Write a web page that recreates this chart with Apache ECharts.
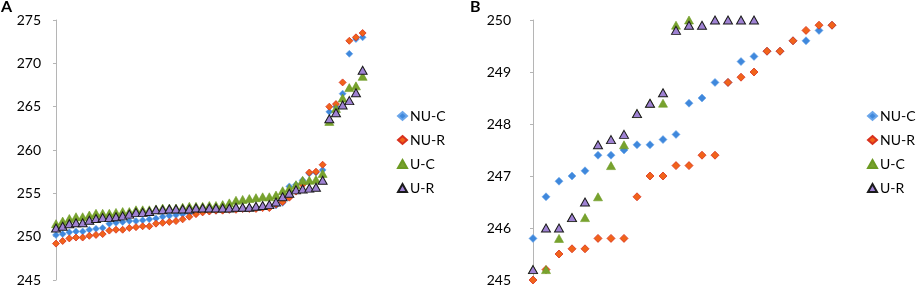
<!DOCTYPE html>
<html>
<head>
<meta charset="utf-8">
<script src="https://cdn.jsdelivr.net/npm/echarts@6/dist/echarts.min.js"></script>
<style>
  html, body { margin: 0; padding: 0; background: #fff; }
  #chart { width: 918px; height: 294px; }
</style>
</head>
<body>
<div id="chart"></div>
<script>
// panel A: 47 sorted values per group
var idxA = [];
for (var k = 0; k < 47; k++) idxA.push(k);
var nucA = [250.2, 250.3, 250.5, 250.6, 250.6, 250.8, 250.9, 251.0, 251.5, 251.6,
  251.7, 251.8, 251.8, 251.9, 252.0, 252.1, 252.3, 252.4, 252.5, 252.6,
  252.7, 252.8, 252.9, 253.0, 253.0, 253.1, 253.1, 253.2, 253.2, 253.3,
  253.3, 253.4, 253.5, 253.6, 253.9, 255.8, 256.0, 256.5, 257.3, 257.4,
  257.7, 264.4, 265.0, 266.5, 271.1, 272.8, 273.0];
var nurA = [249.2, 249.5, 249.8, 249.9, 249.9, 250.1, 250.2, 250.3, 250.7, 250.8,
  250.8, 251.0, 251.1, 251.2, 251.2, 251.5, 251.6, 251.7, 251.8, 252.0,
  252.3, 252.6, 252.8, 252.9, 253.0, 253.0, 253.1, 253.1, 253.2, 253.2,
  253.2, 253.3, 253.3, 253.7, 254.0, 254.5, 255.2, 256.0, 257.4, 257.5,
  258.3, 265.0, 265.3, 267.8, 272.6, 273.0, 273.5];
var ucA = [251.5, 251.8, 252.1, 252.3, 252.3, 252.5, 252.7, 252.7, 252.7, 252.8,
  252.9, 252.9, 253.1, 253.1, 253.1, 253.2, 253.3, 253.3, 253.3, 253.4,
  253.5, 253.5, 253.5, 253.6, 253.6, 253.7, 253.9, 254.2, 254.3, 254.4,
  254.5, 254.6, 254.6, 254.8, 255.3, 255.6, 256.0, 256.5, 256.5, 256.6,
  257.3, 263.3, 264.8, 266.0, 267.2, 267.4, 268.5];
var urA = [251.0, 251.2, 251.5, 251.6, 251.6, 251.9, 252.1, 252.2, 252.2, 252.3,
  252.4, 252.6, 252.8, 252.8, 252.9, 253.1, 253.1, 253.2, 253.2, 253.2,
  253.2, 253.3, 253.3, 253.3, 253.3, 253.3, 253.3, 253.4, 253.4, 253.4,
  253.5, 253.6, 253.7, 254.0, 254.6, 255.0, 255.4, 255.5, 255.6, 255.7,
  256.5, 263.6, 264.3, 265.2, 265.7, 266.6, 269.2];

// panel B: 24 values per group, null = above the axis (not shown)
var idxB = [];
for (var k = 0; k < 24; k++) idxB.push(k);
var nucB = [245.8, 246.6, 246.9, 247.0, 247.1, 247.4, 247.4, 247.5, 247.6, 247.6, 247.7, 247.8,
  248.4, 248.5, 248.8, 248.8, 249.2, 249.3, 249.4, 249.4, 249.6, 249.6, 249.8, 249.9];
var nurB = [245.0, 245.2, 245.5, 245.6, 245.6, 245.8, 245.8, 245.8, 246.6, 247.0, 247.0, 247.2,
  247.2, 247.4, 247.4, 248.8, 248.9, 249.0, 249.4, 249.4, 249.6, 249.8, 249.9, 249.9];
var ucB = [245.2, 245.2, 245.8, 246.2, 246.2, 246.6, 247.2, 247.6, 248.2, 248.4, 248.4, 249.9,
  250.0, null, null, null, null, null, null, null, null, null, null, null];
var urB = [245.2, 246.0, 246.0, 246.2, 246.5, 247.6, 247.7, 247.8, 248.2, 248.4, 248.6, 249.8,
  249.9, 249.9, 250.0, 250.0, 250.0, 250.0, null, null, null, null, null, null];

var names = ['NU-C', 'NU-R', 'U-C', 'U-R'];
var yTicksA = [245, 275, 5];
var yTicksB = [245, 250, 1];

var styles = {
  'NU-C': { symbol: 'diamond', color: '#3f88dc', border: '#6ba6ea', bw: 0.6 },
  'NU-R': { symbol: 'diamond', color: '#f1631a', border: '#d8301d', bw: 0.8 },
  'U-C': { symbol: 'triangle', color: '#78a22e', border: '#6c9a22', bw: 0.6 },
  'U-R': { symbol: 'triangle', color: '#9f82d3', border: '#1a1a1a', bw: 1 }
};

function pts(xs, ys) {
  var out = [];
  xs.forEach(function (x, i) {
    if (ys[i] != null) out.push([x, ys[i]]);
  });
  return out;
}

function mk(name, xs, ys, gi, size) {
  var s = styles[name];
  return {
    name: name,
    type: 'scatter',
    xAxisIndex: gi,
    yAxisIndex: gi,
    symbol: s.symbol,
    symbolSize: s.symbol === 'diamond' ? size : [size + 1, size],
    itemStyle: { color: s.color, borderColor: s.border, borderWidth: s.bw, opacity: 1 },
    emphasis: { disabled: true },
    data: pts(xs, ys)
  };
}

var font = 'Lato, "Open Sans", sans-serif';

function yAx(gi, t) {
  return {
    gridIndex: gi,
    type: 'value',
    min: t[0], max: t[1], interval: t[2],
    axisLine: { show: true, lineStyle: { color: '#b5b5b5', width: 1 } },
    axisTick: { show: true, length: 3, lineStyle: { color: '#b5b5b5' } },
    splitLine: { show: false },
    axisLabel: { color: '#000', fontSize: 14, fontFamily: font, margin: 9 }
  };
}

function leg(left) {
  return {
    orient: 'vertical',
    left: left,
    top: 104,
    itemWidth: 9,
    itemHeight: 8,
    itemGap: 10,
    data: names,
    selectedMode: false,
    textStyle: { fontSize: 14, fontFamily: font, color: '#000', padding: [0, 0, 0, -2] }
  };
}

var chart = echarts.init(document.getElementById('chart'), null, { renderer: 'canvas' });
chart.setOption({
  animation: false,
  grid: [
    { left: 50, top: 20, width: 319.3, height: 260 },
    { left: 520, top: 20, width: 325, height: 260 }
  ],
  xAxis: [
    { gridIndex: 0, type: 'value', min: -0.9, max: 47, show: false },
    { gridIndex: 1, type: 'value', min: -1, max: 24, show: false }
  ],
  yAxis: [yAx(0, yTicksA), yAx(1, yTicksB)],
  legend: [leg(392), leg(862)],
  graphic: [
    { type: 'text', left: 1, top: -1, style: { text: 'A', font: 'bold 16px ' + font, fill: '#000' } },
    { type: 'text', left: 470, top: -1, style: { text: 'B', font: 'bold 16px ' + font, fill: '#000' } }
  ],
  series: [
    mk('NU-C', idxA, nucA, 0, 7),
    mk('NU-R', idxA, nurA, 0, 7),
    mk('U-C', idxA, ucA, 0, 8),
    mk('U-R', idxA, urA, 0, 8),
    mk('NU-C', idxB, nucB, 1, 8),
    mk('NU-R', idxB, nurB, 1, 8),
    mk('U-C', idxB, ucB, 1, 8),
    mk('U-R', idxB, urB, 1, 8)
  ]
});
</script>
</body>
</html>
